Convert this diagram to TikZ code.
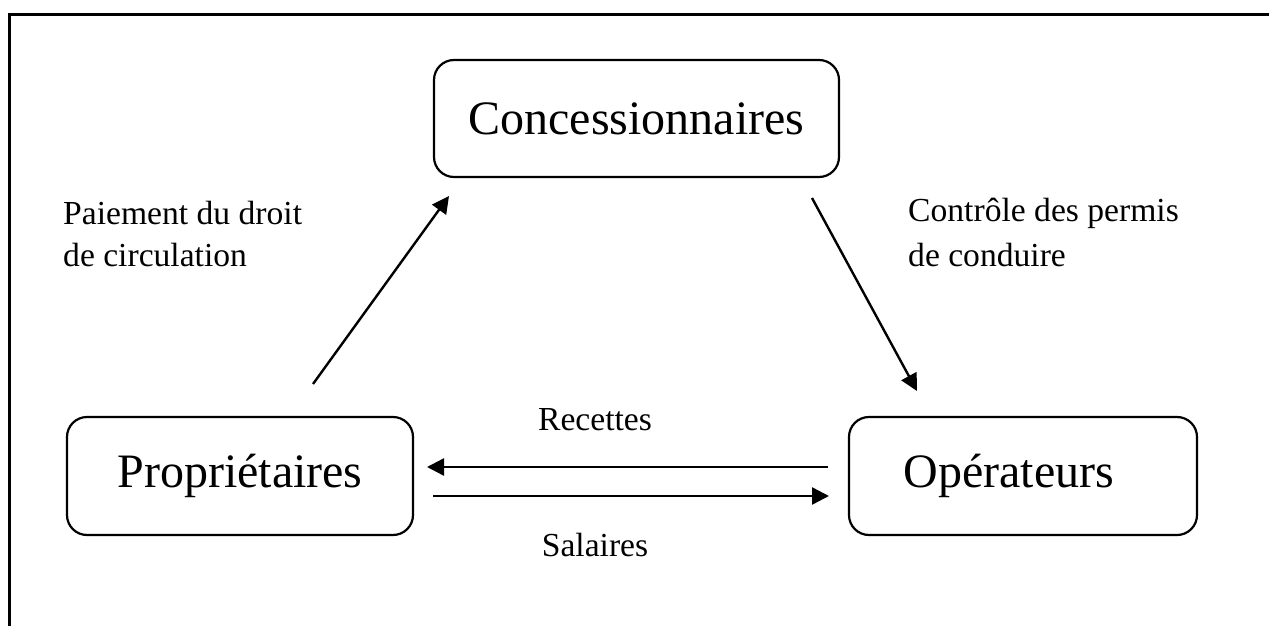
\documentclass[tikz,border=0pt]{standalone}
\usepackage{fontspec}
\setmainfont{Liberation Serif}
\usetikzlibrary{arrows.meta}
\begin{document}
\begin{tikzpicture}[x=1pt,y=-1pt,
  box/.style={draw,line width=2.2pt,rounded corners=20pt,inner sep=0pt,font=\fontsize{48}{56}\selectfont},
  lbl/.style={font=\fontsize{33.6}{42}\selectfont,inner sep=0pt},
  arr/.style={line width=2.4pt,-{Triangle[length=17pt,width=17pt]}}]
\useasboundingbox (0,0) rectangle (1269,626);
\draw[line width=2.4pt] (9.5,626) -- (9.5,14.5) -- (1269,14.5);
\node[box,minimum width=405pt,minimum height=117pt] (conc) at (636.5,118.5) {Concessionnaires};
\node[box,minimum width=346pt,minimum height=118pt] (prop) at (240,476) {Propriétaires};
\node[box,minimum width=348pt,minimum height=118pt] (oper) at (1023,476) {Opérateurs\hspace*{28pt}};
\coordinate (a1s) at (313,384);
\coordinate (a1e) at (449,196);
\coordinate (a2s) at (812,198);
\coordinate (a2e) at (917,391);
\coordinate (r1) at (828,467);
\coordinate (r2) at (427,467);
\coordinate (s1) at (433,496);
\coordinate (s2) at (829,496);
\draw[arr] (a1s) -- (a1e);
\draw[arr] (a2s) -- (a2e);
\draw[arr] (r1) -- (r2);
\draw[arr] (s1) -- (s2);
\node[lbl,anchor=west] (pay1) at (63,213) {Paiement du droit};
\node[lbl,anchor=west] (pay2) at (63,255) {de circulation};
\node[lbl,anchor=west] (ctl1) at (908,213) {Contrôle des permis};
\node[lbl,anchor=west] (ctl2) at (908,255) {de conduire};
\node[lbl] (rec) at (595,420) {Recettes};
\node[lbl] (sal) at (595,545) {Salaires};
\end{tikzpicture}
\end{document}
